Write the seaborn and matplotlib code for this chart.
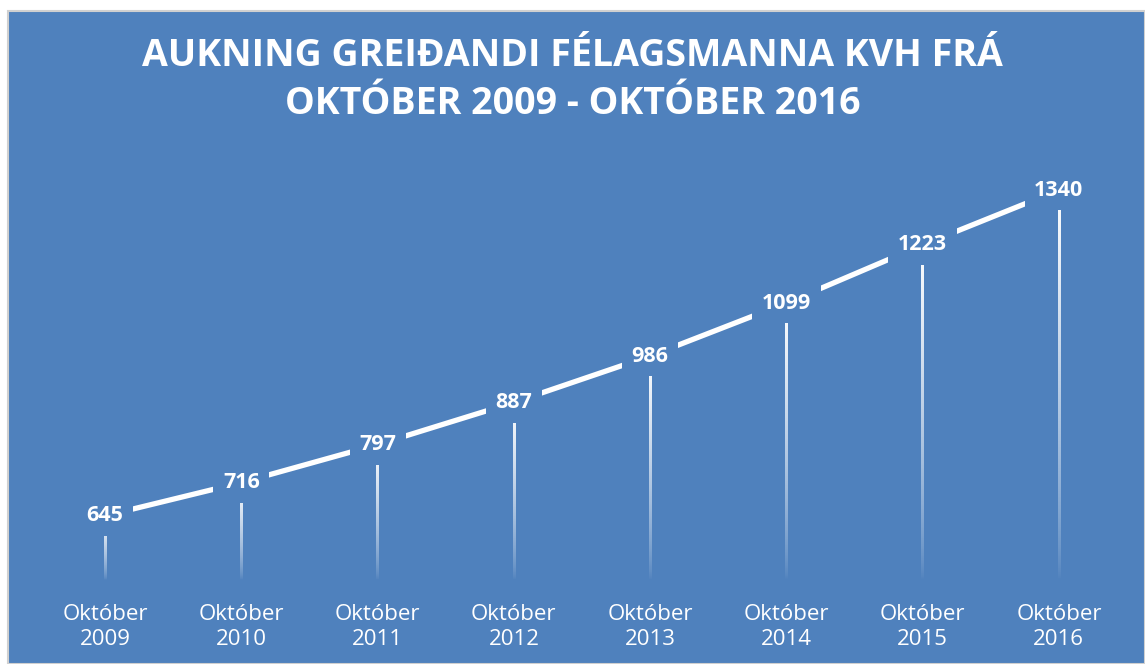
import numpy as np
import pandas as pd
import matplotlib
matplotlib.use("Agg")
import matplotlib.pyplot as plt
from matplotlib.patches import Rectangle
import seaborn as sns

years = ["2009", "2010", "2011", "2012", "2013", "2014", "2015", "2016"]
tick_labels = ["Október\n" + y for y in years]
members = [645, 716, 797, 887, 986, 1099, 1223, 1340]
title = "AUKNING GREIÐANDI FÉLAGSMANNA KVH FRÁ\nOKTÓBER 2009 - OKTÓBER 2016"

BG = "#4F81BD"
sns.set_theme(style="white")
plt.rcParams["font.family"] = ["Open Sans", "DejaVu Sans"]

fig = plt.figure(figsize=(11.45, 6.64), dpi=100)
fig.patch.set_facecolor("white")
# chart area background with thin gray border
bgrect = Rectangle((8 / 1145, 0), 1 - 8 / 1145, 1 - 11 / 664,
                   transform=fig.transFigure, facecolor=BG,
                   edgecolor="#D0D0D0", linewidth=1.5, zorder=-10)
fig.patches.append(bgrect)

ax = fig.add_axes([37 / 1145, 1 - 580 / 664, 1090 / 1145, (580 - 162) / 664])
ax.set_facecolor("none")
ax.set_zorder(5)

df = pd.DataFrame({"x": np.arange(len(members)), "v": members})
ymin, ymax = 508, 1400

# gradient drop lines (white fading to transparent toward the axis)
half_w = 0.0095
grad = np.zeros((256, 1, 4))
grad[..., :3] = 1.0
grad[:, 0, 3] = np.linspace(0.0, 1.0, 256) ** 0.7
for xi, v in zip(df["x"], df["v"]):
    ax.imshow(grad, extent=[xi - half_w, xi + half_w, ymin, v], origin="lower",
              aspect="auto", interpolation="bilinear", zorder=2)

sns.lineplot(data=df, x="x", y="v", ax=ax, color="white", linewidth=3.8,
             zorder=3, legend=False)

for xi, v in zip(df["x"], df["v"]):
    ax.text(xi, v, f"{v}", ha="center", va="center", fontsize=15.5,
            fontweight="bold", color="white", zorder=5,
            bbox=dict(boxstyle="square,pad=0.45", facecolor=BG, edgecolor="none"))

ax.set_xlim(-0.5, len(members) - 0.5)
ax.set_ylim(ymin, ymax)
ax.set_xticks(df["x"])
ax.set_xticklabels(tick_labels, color="white", fontsize=16, linespacing=1.3)
ax.tick_params(axis="x", length=0, pad=17)
ax.set_yticks([])
ax.set_xlabel("")
ax.set_ylabel("")
for s in ax.spines.values():
    s.set_visible(False)

fig.text(0.5, 1 - 80 / 664, title, ha="center", va="center", color="white",
         fontsize=27, fontweight="bold", linespacing=1.35, zorder=6)

fig.savefig("out.png", dpi=100, facecolor=fig.get_facecolor())
